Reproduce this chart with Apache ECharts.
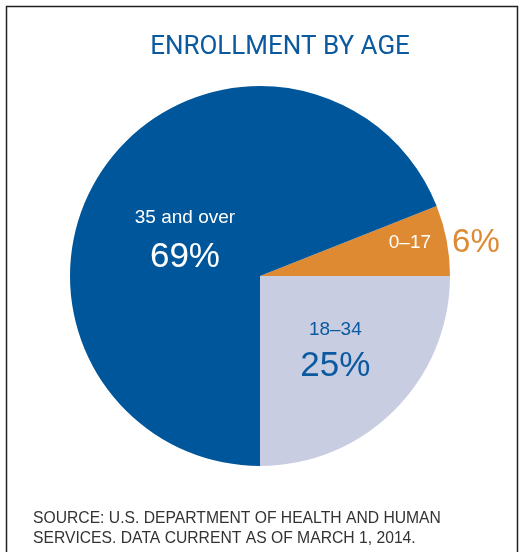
<!DOCTYPE html>
<html><head><meta charset="utf-8">
<script src="https://cdn.jsdelivr.net/npm/echarts@6/dist/echarts.min.js"></script>
<style>html,body{margin:0;padding:0;background:#fff}#c{width:522px;height:552px}</style>
</head><body><div id="c"></div>
<script>
const titleText = 'ENROLLMENT BY AGE';
const categories = ['0–17', '18–34', '35 and over'];
const values = [6, 25, 69];
const sourceLines = ['SOURCE: U.S. DEPARTMENT OF HEALTH AND HUMAN', 'SERVICES. DATA CURRENT AS OF MARCH 1, 2014.'];

const colors = ['#DE8A33', '#C8CDE2', '#00569A'];
const font = '"Liberation Sans", Arial, sans-serif';
const tfont = 'Roboto, "Liberation Sans", Arial, sans-serif';

const labelCfg = [
  { formatter: '{n|{b}}{g|}{p|{c}%}', offset: [88, -15],
    rich: { n: { fontSize: 19, color: '#fff', fontFamily: font },
            g: { width: 21 },
            p: { fontSize: 33, color: '#DE8A33', fontFamily: font } } },
  { formatter: '{n|{b}}\n{p|{c}%}', offset: [6, 5],
    rich: { n: { fontSize: 19, color: '#0B5AA0', fontFamily: font, lineHeight: 32 },
            p: { fontSize: 35, color: '#0B5AA0', fontFamily: font, lineHeight: 42 } } },
  { formatter: '{n|{b}}\n{p|{c}%}', offset: [6, 20],
    rich: { n: { fontSize: 19, color: '#fff', fontFamily: font, lineHeight: 32 },
            p: { fontSize: 35, color: '#fff', fontFamily: font, lineHeight: 46 } } }
];

const data = categories.map((name, i) => ({
  name, value: values[i],
  itemStyle: { color: colors[i] },
  label: Object.assign({ show: true, position: 'inside' }, labelCfg[i])
}));

const chart = echarts.init(document.getElementById('c'), null, { renderer: 'canvas' });
chart.setOption({
  animation: false,
  title: { text: titleText, left: 275, textAlign: 'center', top: 29,
    textStyle: { color: '#0B5AA0', fontSize: 26, fontWeight: 'normal', fontFamily: tfont } },
  series: [{
    type: 'pie', center: [260, 276], radius: [0, 190], startAngle: 21.6,
    clockwise: true, silent: true, labelLine: { show: false },
    itemStyle: { borderWidth: 0 },
    data
  }],
  graphic: [
    { type: 'rect', shape: { x: 6.5, y: 6.5, width: 511, height: 600 },
      style: { fill: 'none', stroke: '#222', lineWidth: 1.5 } },
    { type: 'text', left: 33, top: 509,
      style: { text: sourceLines.join('\n'), fill: '#333', font: '15.7px ' + font, lineHeight: 20 } }
  ]
});
</script></body></html>
